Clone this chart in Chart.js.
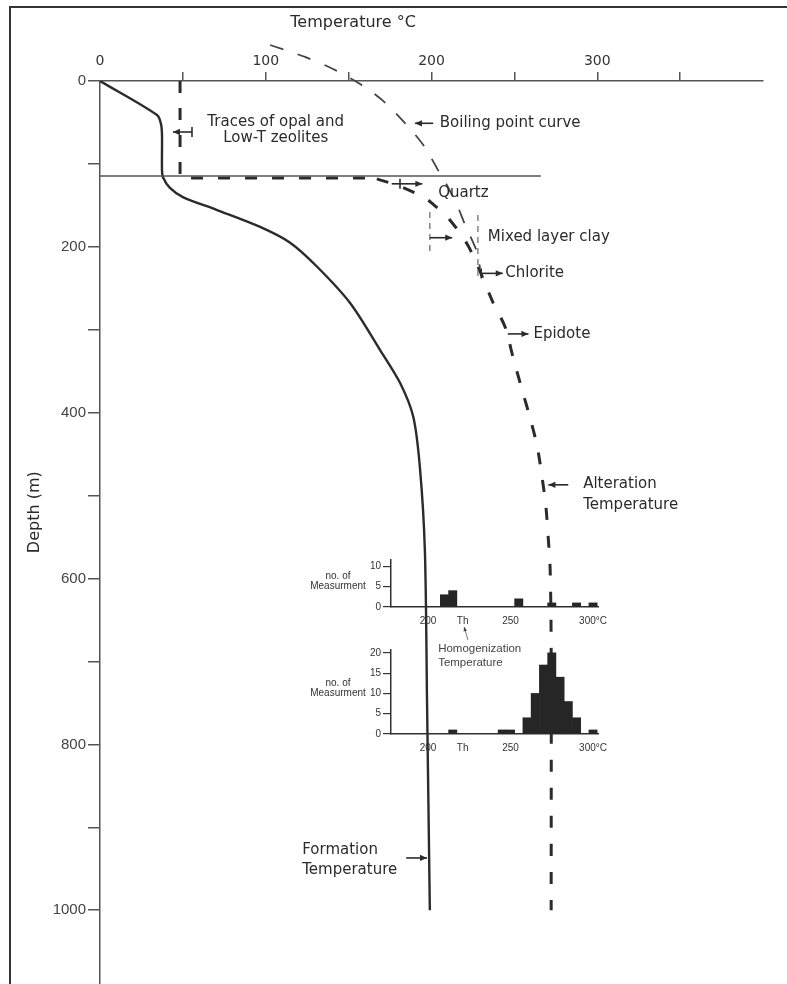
<!DOCTYPE html>
<html>
  <head>
    <meta charset="utf-8" />
    <title>Formation and alteration temperature</title>
    <script src="https://cdn.jsdelivr.net/npm/chart.js"></script>
    <style>
      body { margin: 0; background: #fff; }
      #wrap { position: relative; width: 787px; height: 984px; overflow: hidden; }
      #frame {
        position: absolute; left: 9px; top: 6px; width: 800px; height: 1000px;
        border-left: 2px solid #333; border-top: 2px solid #333;
      }
      canvas { position: absolute; }
      #main { left: 0; top: 0; }
      #hist1 { left: 300px; top: 550px; }
      #hist2 { left: 300px; top: 640px; }
    </style>
  </head>
  <body>
    <div id="wrap">
      <div id="frame"></div>
      <canvas id="main" width="787" height="984"></canvas>
      <canvas id="hist1" width="320" height="80"></canvas>
      <canvas id="hist2" width="320" height="120"></canvas>
    </div>

    <script>
      // formation temperature (solid curve)
      const formationTemp = [0, 34.4, 36.8, 37.4, 37.4, 38, 42.2, 50, 70.6, 96.6, 114.7, 131, 151, 169, 181, 189, 193, 196, 197.3, 199];
      const formationDepth = [0, 41, 52, 65, 107, 116, 129, 140, 155.6, 176, 195, 224, 268, 324.5, 364, 405, 466, 566, 747, 1000];

      // boiling point curve (thin dashes)
      const boilTemp = [102.6, 123.7, 140.6, 156.9, 170.8, 184, 195.5, 204.6, 207.6, 215.4, 220.3, 227, 229.3];
      const boilDepth = [-43.4, -29, -14.5, 3.6, 24, 50.7, 78.4, 109.8, 119.4, 149.6, 173.7, 204, 225.6];

      // alteration temperature (thick dashes): step part then curve
      const alterStepTemp = [48.3, 48.3, 167];
      const alterStepDepth = [0, 117, 117];
      const alterTemp = [167, 181, 196, 200, 210, 221.5, 228.7, 237, 244.4, 249, 254, 259, 263.7, 266.7, 269, 270.4, 271.6, 272.2, 272.2];
      const alterDepth = [118, 127, 141, 147, 165, 196.6, 227, 266.6, 296.7, 331.7, 368, 403, 440, 477.7, 512.7, 550, 590, 686, 1000];

      // horizon line and mixed layer clay limits
      const horizonTemp = [0, 266];
      const horizonDepth = [114.6, 114.6];
      const clayTemp = [199, 228];
      const clayTop = [158, 161.6];
      const clayBottom = [207.5, 240];

      // fluid inclusion histograms (5 degree bins)
      const histBins = [180, 185, 190, 195, 200, 205, 210, 215, 220, 225, 230, 235, 240, 245, 250, 255, 260, 265, 270, 275, 280, 285, 290, 295, 300];
      const hist600 = [0, 0, 0, 0, 0, 0, 3, 4, 0, 0, 0, 0, 0, 0, 0, 2, 0, 0, 0, 1, 0, 0, 1, 0, 1];
      const hist800 = [0, 0, 0, 0, 0, 0, 0, 1, 0, 0, 0, 0, 0, 1, 1, 0, 4, 10, 17, 20, 14, 8, 4, 0, 1];
      const histTickValues = [200, 221, 250, 300];
      const histTickLabels = ["200", "Th", "250", "300°C"];

      const notes = [
        { text: "Traces of opal and", t: 106, d: 49.5, align: "center" },
        { text: "Low-T zeolites", t: 106, d: 69, align: "center" },
        { text: "Boiling point curve", t: 205, d: 51 },
        { text: "Quartz", t: 204, d: 135 },
        { text: "Mixed layer clay", t: 234, d: 188 },
        { text: "Chlorite", t: 244.5, d: 232 },
        { text: "Epidote", t: 261.5, d: 305 },
        { text: "Alteration", t: 291.5, d: 486 },
        { text: "Temperature", t: 291.5, d: 511 },
        { text: "Formation", t: 122, d: 928 },
        { text: "Temperature", t: 122, d: 952 },
      ];
      const arrows = [
        { from: [55.5, 61.5], to: [44, 61.5], bar: 55.5 },
        { from: [201, 51], to: [190, 51] },
        { from: [176, 124], to: [194.5, 124], bar: 181 },
        { from: [199, 189], to: [212.5, 189] },
        { from: [230, 232], to: [243, 232], bar: 230 },
        { from: [246, 305], to: [258.5, 305] },
        { from: [282.5, 487], to: [270.5, 487] },
        { from: [184.7, 937], to: [197.3, 937] },
      ];

      function pts(xs, ys) {
        return xs.map((v, i) => ({ x: v, y: ys[i] }));
      }

      function arrow(ctx, x1, y1, x2, y2, head) {
        ctx.beginPath();
        ctx.moveTo(x1, y1);
        ctx.lineTo(x2, y2);
        ctx.stroke();
        const a = Math.atan2(y2 - y1, x2 - x1);
        const c = Math.cos(a), s = Math.sin(a);
        ctx.beginPath();
        ctx.moveTo(x2, y2);
        ctx.lineTo(x2 - head * c + head * 0.45 * s, y2 - head * s - head * 0.45 * c);
        ctx.lineTo(x2 - head * c - head * 0.45 * s, y2 - head * s + head * 0.45 * c);
        ctx.closePath();
        ctx.fill();
      }

      const notesPlugin = {
        id: "notes",
        afterDatasetsDraw(chart) {
          const { ctx, chartArea } = chart;
          const x = chart.scales.x, y = chart.scales.y;
          ctx.save();
          ctx.fillStyle = "#2b2b2b";
          ctx.strokeStyle = "#2b2b2b";
          ctx.lineWidth = 1.6;
          ctx.textBaseline = "middle";
          ctx.font = '15px "DejaVu Sans"';
          notes.forEach((n) => {
            ctx.textAlign = n.align || "left";
            ctx.fillText(n.text, x.getPixelForValue(n.t), y.getPixelForValue(n.d));
          });
          arrows.forEach((a) => {
            const py = y.getPixelForValue(a.from[1]);
            arrow(ctx, x.getPixelForValue(a.from[0]), py, x.getPixelForValue(a.to[0]), y.getPixelForValue(a.to[1]), 7);
            if (a.bar !== undefined) {
              const bx = x.getPixelForValue(a.bar);
              ctx.beginPath();
              ctx.moveTo(bx, py - 5);
              ctx.lineTo(bx, py + 5);
              ctx.stroke();
            }
          });

          // homogenization temperature label between the histograms
          ctx.font = '11.5px "Liberation Sans"';
          ctx.fillStyle = "#444";
          ctx.strokeStyle = "#555";
          ctx.lineWidth = 0.8;
          ctx.textAlign = "left";
          ctx.fillText("Homogenization", x.getPixelForValue(204), y.getPixelForValue(685));
          ctx.fillText("Temperature", x.getPixelForValue(204), y.getPixelForValue(702));
          arrow(ctx, x.getPixelForValue(222), y.getPixelForValue(674), x.getPixelForValue(219.7), y.getPixelForValue(658.6), 4);

          // axis titles
          ctx.fillStyle = "#2b2b2b";
          ctx.font = '16px "DejaVu Sans"';
          ctx.textAlign = "center";
          ctx.fillText("Temperature °C", x.getPixelForValue(152.7), chartArea.top - 58);
          ctx.translate(chartArea.left - 65, y.getPixelForValue(520));
          ctx.rotate(-Math.PI / 2);
          ctx.fillText("Depth (m)", 0, 0);
          ctx.restore();
        },
      };

      const mainChart = new Chart(document.getElementById("main"), {
        type: "scatter",
        data: {
          datasets: [
            {
              data: pts(horizonTemp, horizonDepth),
              borderColor: "#555",
              borderWidth: 1.5,
            },
            {
              data: pts([clayTemp[0], clayTemp[0]], [clayTop[0], clayBottom[0]]),
              borderColor: "#666",
              borderWidth: 1.2,
              borderDash: [6, 5],
            },
            {
              data: pts([clayTemp[1], clayTemp[1]], [clayTop[1], clayBottom[1]]),
              borderColor: "#666",
              borderWidth: 1.2,
              borderDash: [6, 5],
            },
            {
              data: pts(boilTemp, boilDepth),
              borderColor: "#444",
              borderWidth: 1.8,
              borderDash: [14, 15],
              tension: 0.3,
              clip: false,
            },
            {
              data: pts(alterStepTemp, alterStepDepth),
              borderColor: "#2b2b2b",
              borderWidth: 3,
              borderDash: [12, 15],
            },
            {
              data: pts(alterTemp, alterDepth),
              borderColor: "#2b2b2b",
              borderWidth: 3,
              borderDash: [12, 16],
              tension: 0.3,
            },
            {
              data: pts(formationTemp, formationDepth),
              borderColor: "#2b2b2b",
              borderWidth: 2.4,
              tension: 0.3,
            },
          ],
        },
        options: {
          responsive: false,
          animation: false,
          events: [],
          showLine: true,
          elements: { point: { radius: 0 } },
          layout: { padding: { left: 0, top: 0, right: 24, bottom: 0 } },
          plugins: { legend: { display: false }, tooltip: { enabled: false } },
          scales: {
            x: {
              type: "linear",
              position: "top",
              min: 0,
              max: 400,
              border: { color: "#555", width: 1.5 },
              grid: {
                drawOnChartArea: false,
                tickLength: 9,
                lineWidth: 1.5,
                color: (c) => (c.tick && c.tick.value > 0 && c.tick.value < 400 ? "#555" : "rgba(0,0,0,0)"),
              },
              ticks: {
                stepSize: 50,
                includeBounds: false,
                autoSkip: false,
                maxRotation: 0,
                padding: 2,
                color: "#333",
                font: { family: "DejaVu Sans", size: 14 },
                callback: (v) => (v % 100 === 0 && v < 400 ? String(v) : ""),
              },
              afterFit: (s) => {
                s.height = 81;
                s.paddingLeft = 0;
                s.paddingRight = 0;
              },
            },
            y: {
              type: "linear",
              reverse: true,
              min: 0,
              max: 1089,
              border: { color: "#555", width: 1.5 },
              grid: { drawOnChartArea: false, tickLength: 12, lineWidth: 1.5, color: "#555" },
              ticks: {
                stepSize: 100,
                includeBounds: false,
                autoSkip: false,
                padding: 2,
                color: "#444",
                font: { family: "Liberation Sans", size: 15 },
                callback: (v) => (v % 200 === 0 ? String(v) : ""),
              },
              afterFit: (s) => {
                s.width = 100;
                s.paddingTop = 0;
                s.paddingBottom = 0;
              },
            },
          },
        },
        plugins: [notesPlugin],
      });

      function histChart(id, counts, yMax, titleAt, xHeight) {
        return new Chart(document.getElementById(id), {
          type: "bar",
          data: {
            datasets: [
              {
                data: pts(histBins, counts),
                backgroundColor: "#262626",
                barPercentage: 1,
                categoryPercentage: 1,
              },
            ],
          },
          options: {
            responsive: false,
            animation: false,
            events: [],
            layout: { padding: { left: 0, top: 10, right: 22, bottom: 0 } },
            plugins: { legend: { display: false }, tooltip: { enabled: false } },
            scales: {
              x: {
                type: "linear",
                min: 177.6,
                max: 303,
                offset: false,
                border: { color: "#333", width: 1.5 },
                grid: { drawOnChartArea: false, drawTicks: false, offset: false },
                afterBuildTicks: (axis) => { axis.ticks = histTickValues.map((v) => ({ value: v })); },
                ticks: {
                  autoSkip: false,
                  maxRotation: 0,
                  padding: 8,
                  color: "#333",
                  font: { family: "Liberation Sans", size: 10 },
                  callback: (v, i) => histTickLabels[i],
                },
                afterFit: (s) => {
                  s.height = xHeight;
                  s.paddingLeft = 0;
                  s.paddingRight = 0;
                },
              },
              y: {
                type: "linear",
                min: 0,
                max: yMax,
                border: { color: "#333", width: 1.5 },
                grid: { drawOnChartArea: false, tickLength: 8, color: "#333", lineWidth: 1.2 },
                ticks: {
                  stepSize: 5,
                  includeBounds: false,
                  padding: 2,
                  color: "#333",
                  font: { family: "Liberation Sans", size: 10 },
                },
                afterFit: (s) => {
                  s.width = 91;
                  s.paddingTop = 0;
                  s.paddingBottom = 0;
                },
              },
            },
          },
          plugins: [
            {
              id: "histTitle",
              afterDraw(chart) {
                const { ctx, chartArea } = chart;
                const cy = chart.scales.y.getPixelForValue(titleAt);
                ctx.save();
                ctx.font = '10px "Liberation Sans"';
                ctx.fillStyle = "#333";
                ctx.textAlign = "center";
                ctx.textBaseline = "middle";
                ctx.fillText("no. of", chartArea.left - 53, cy - 10);
                ctx.fillText("Measurment", chartArea.left - 53, cy);
                ctx.restore();
              },
            },
          ],
        });
      }

      const hist1 = histChart("hist1", hist600, 11.5, 5, 23);
      const hist2 = histChart("hist2", hist800, 20.7, 10, 26);
    </script>
  </body>
</html>
